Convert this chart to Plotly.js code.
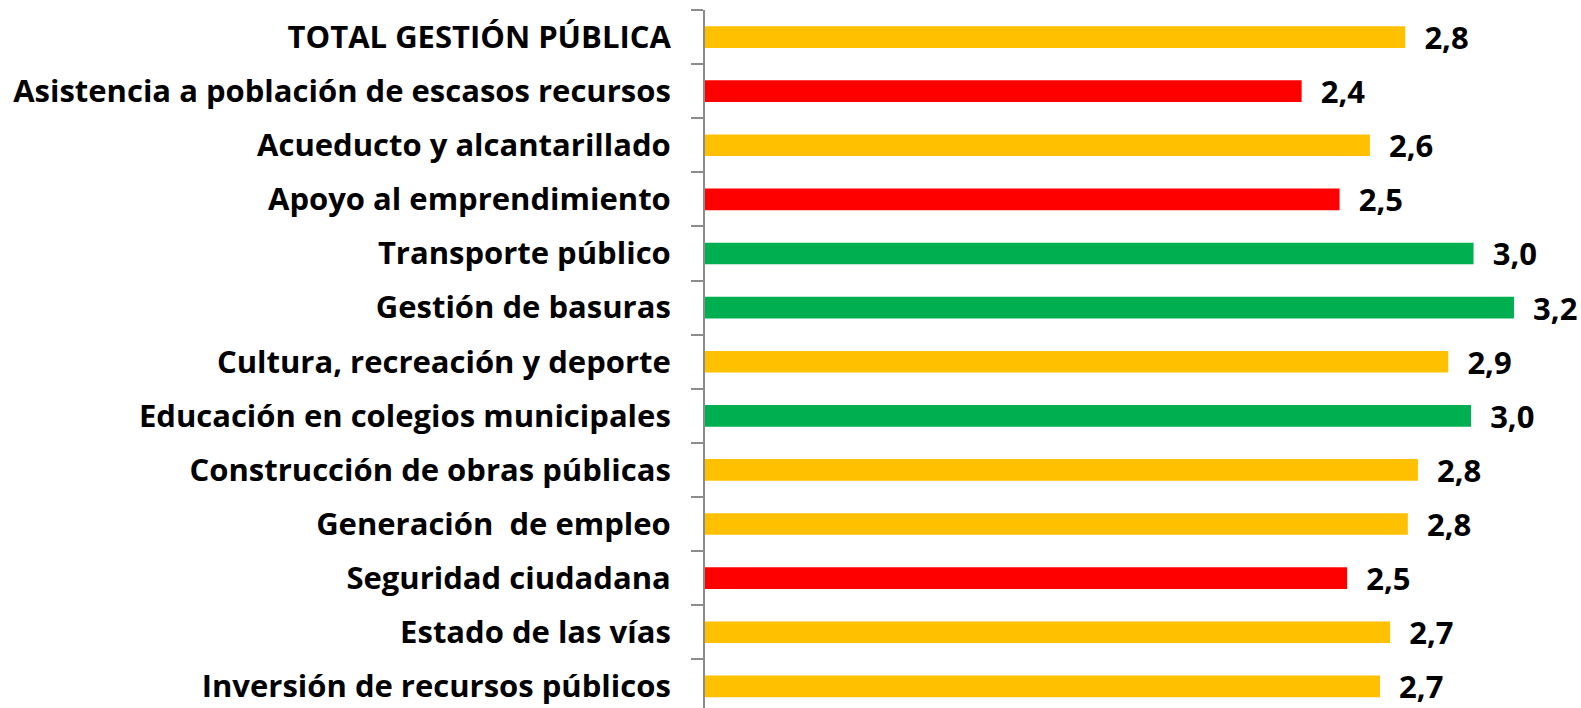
<!DOCTYPE html>
<html>
<head>
<meta charset="utf-8">
<script src="https://cdn.plot.ly/plotly-3.0.1.min.js"></script>
<style>html,body{margin:0;padding:0;background:#fff;}#chart{width:1581px;height:708px;}</style>
</head>
<body>
<div id="chart"></div>
<script>
const categories = [
  "TOTAL GESTIÓN PÚBLICA",
  "Asistencia a población de escasos recursos",
  "Acueducto y alcantarillado",
  "Apoyo al emprendimiento",
  "Transporte público",
  "Gestión de basuras",
  "Cultura, recreación y deporte",
  "Educación en colegios municipales",
  "Construcción de obras públicas",
  "Generación  de empleo",
  "Seguridad ciudadana",
  "Estado de las vías",
  "Inversión de recursos públicos"
];
const values = [2.77, 2.36, 2.63, 2.51, 3.04, 3.20, 2.94, 3.03, 2.82, 2.78, 2.54, 2.71, 2.67];
const barColors = ["#FFC000", "#FF0000", "#FFC000", "#FF0000", "#00B050", "#00B050", "#FFC000",
                   "#00B050", "#FFC000", "#FFC000", "#FF0000", "#FFC000", "#FFC000"];

const FONT = "'Open Sans', sans-serif";

Plotly.newPlot("chart", [{
  type: "bar",
  orientation: "h",
  y: categories,
  x: values,
  width: 0.4,
  marker: {color: barColors},
  texttemplate: "\u00a0\u00a0%{x:.1f}",
  textposition: "outside",
  constraintext: "none",
  cliponaxis: false,
  textfont: {family: FONT, size: 31, color: "#000", weight: "bold"},
  hoverinfo: "none"
}], {
  width: 1581,
  height: 708,
  separators: ",.",
  margin: {l: 705, r: 0, t: 10, b: 0},
  paper_bgcolor: "#fff",
  plot_bgcolor: "#fff",
  showlegend: false,
  xaxis: {range: [0, 3.465], visible: false, showgrid: false, zeroline: false},
  yaxis: {
    type: "category",
    range: [12.40, -0.5],
    showline: true, linecolor: "#8c8c8c", linewidth: 2,
    ticks: "outside", ticklen: 12, tickwidth: 2, tickcolor: "#8c8c8c",
    tickson: "boundaries",
    ticklabelstandoff: 26,
    showgrid: false, zeroline: false,
    tickfont: {family: FONT, size: 31, color: "#000", weight: "bold"}
  }
}, {displayModeBar: false, staticPlot: true});
</script>
</body>
</html>
